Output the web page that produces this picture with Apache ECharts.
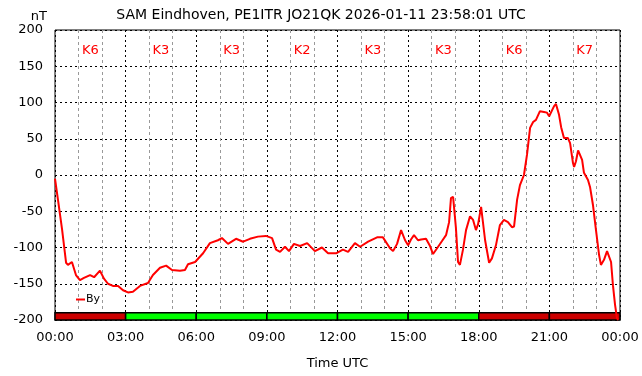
<!DOCTYPE html>
<html>
<head>
<meta charset="utf-8">
<script src="https://cdn.jsdelivr.net/npm/echarts@6/dist/echarts.min.js"></script>
<style>
  html, body { margin: 0; padding: 0; background: #fff; }
  #chart { width: 642px; height: 376px; }
</style>
</head>
<body>
<div id="chart"></div>
<script>
// hours since 00:00 UTC and By value in nT
var hours = [0, 0.13, 0.30, 0.47, 0.55, 0.72, 0.89, 1.06, 1.23, 1.49, 1.66, 1.91, 2.08, 2.25, 2.46, 2.68, 2.89,
  3.10, 3.31, 3.61, 3.95, 4.16, 4.46, 4.72, 4.97, 5.31, 5.52, 5.65, 5.95, 6.29, 6.58, 6.92, 7.09, 7.35, 7.69,
  7.99, 8.28, 8.62, 8.96, 9.22, 9.39, 9.56, 9.77, 9.94, 10.15, 10.41, 10.71, 11.04, 11.34, 11.60, 11.94, 12.23,
  12.45, 12.74, 12.96, 13.30, 13.68, 13.93, 14.23, 14.36, 14.53, 14.70, 14.87, 15.00, 15.12, 15.25, 15.42,
  15.55, 15.76, 15.93, 16.06, 16.23, 16.44, 16.61, 16.74, 16.82, 16.91, 17.03, 17.12, 17.20, 17.33, 17.46,
  17.63, 17.76, 17.88, 17.97, 18.10, 18.18, 18.27, 18.44, 18.56, 18.73, 18.90, 19.07, 19.24, 19.41, 19.50,
  19.63, 19.75, 19.92, 20.05, 20.18, 20.31, 20.43, 20.60, 20.77, 20.90, 20.99, 21.07, 21.20, 21.28, 21.41,
  21.50, 21.62, 21.79, 21.88, 22.00, 22.05, 22.13, 22.22, 22.30, 22.39, 22.47, 22.64, 22.73, 22.85, 22.98,
  23.11, 23.19, 23.32, 23.45, 23.53, 23.62, 23.70, 23.79, 23.87, 23.92];
var byValues = [-5, -35, -75, -121, -124, -120, -138, -145, -142, -138, -141, -132, -143, -150, -153, -153, -159,
  -162, -161, -153, -149, -138, -128, -125, -131, -132, -131, -123, -120, -108, -94, -90, -87, -95, -88,
  -92, -88, -85, -84, -87, -103, -106, -99, -105, -95, -98, -94, -105, -100, -108, -108, -103,
  -106, -94, -99, -92, -86, -86, -101, -105, -95, -76, -90, -97, -89, -83, -90,
  -89, -88, -98, -109, -101, -91, -83, -65, -32, -30, -73, -120, -124, -103, -76,
  -57, -62, -76, -68, -44, -46, -90, -121, -115, -97, -69, -62, -65, -72, -71,
  -34, -14, 0, 28, 65, 73, 76, 88, 87, 86, 81, 81, 95, 98, 83,
  66, 51, 51, 44, 17, 11, 19, 34, 34, 21, 3, -7, -17, -41, -76,
  -110, -124, -117, -105, -103, -120, -152, -179, -197, -200];

// K index per 3-hour block
var kStarts = [0, 3, 6, 9, 12, 15, 18, 21];
var kIndex = [6, 3, 3, 2, 3, 3, 6, 7];

var kColor = function (k) { return k >= 5 ? '#cc0000' : (k === 4 ? '#ffff00' : '#00ff00'); };

var kAreas = kStarts.map(function (s, i) {
  return [
    { xAxis: s, yAxis: -200, itemStyle: { color: kColor(kIndex[i]), borderColor: '#000', borderWidth: 1.5 } },
    { xAxis: s + 3, yAxis: -190 }
  ];
});
var kLabels = kStarts.map(function (s, i) { return { value: [s + 1.5, 172], k: 'K' + kIndex[i] }; });

var myChart = echarts.init(document.getElementById('chart'));
var font = 'DejaVu Sans';
var option = {
  animation: false,
  textStyle: { fontFamily: font },
  title: {
    text: 'SAM Eindhoven, PE1ITR JO21QK 2026-01-11 23:58:01 UTC',
    left: 'center', top: 3,
    textStyle: { fontFamily: font, fontSize: 14, fontWeight: 'normal', color: '#000' }
  },
  legend: {
    left: 71, top: 289,
    itemWidth: 9, itemHeight: 2, itemGap: 0,
    icon: 'rect',
    textStyle: { fontFamily: font, fontSize: 11, color: '#000', padding: [0, 0, 0, -4] },
    data: ['By']
  },
  grid: {
    left: 55, right: 22, top: 30, bottom: 56,
    show: true, borderColor: '#000', borderWidth: 1
  },
  xAxis: {
    type: 'value', min: 0, max: 24, interval: 3,
    name: 'Time UTC', nameLocation: 'middle', nameGap: 37,
    nameTextStyle: { fontFamily: font, fontSize: 13, color: '#000' },
    axisLine: { show: false },
    axisTick: { show: false },
    axisLabel: {
      fontFamily: font, fontSize: 13, color: '#000', margin: 11,
      formatter: function (v) { var h = v % 24; return (h < 10 ? '0' : '') + h + ':00'; }
    },
    splitLine: { show: true, lineStyle: { color: '#000', type: [2, 3], width: 1 } },
    minorTick: { show: false, splitNumber: 3 },
    minorSplitLine: { show: true, lineStyle: { color: '#999', type: [3, 3], width: 1 } }
  },
  yAxis: {
    type: 'value', min: -200, max: 200, interval: 50,
    name: 'nT', nameLocation: 'end', nameGap: 6,
    nameTextStyle: { fontFamily: font, fontSize: 13, color: '#000', align: 'right', padding: [0, 8, 0, 0] },
    axisLine: { show: false },
    axisTick: { show: false },
    axisLabel: { fontFamily: font, fontSize: 13, color: '#000', margin: 12 },
    splitLine: { show: true, lineStyle: { color: '#000', type: [2, 3], width: 1 } }
  },
  series: [
    {
      name: 'By', type: 'line',
      data: hours.map(function (h, i) { return [h, byValues[i]]; }),
      symbol: 'none', color: '#ff0000',
      lineStyle: { color: '#ff0000', width: 2 },
      z: 5,
      markArea: { silent: true, data: kAreas }
    },
    {
      name: 'K', type: 'scatter', symbolSize: 0,
      data: kLabels,
      itemStyle: { opacity: 1, color: '#ff0000' },
      label: {
        show: true, position: 'inside',
        formatter: function (p) { return p.data.k; },
        fontFamily: font, fontSize: 13, color: '#ff0000',
        textBorderWidth: 0, textBorderColor: 'transparent'
      },
      silent: true
    }
  ]
};
myChart.setOption(option);
</script>
</body>
</html>
